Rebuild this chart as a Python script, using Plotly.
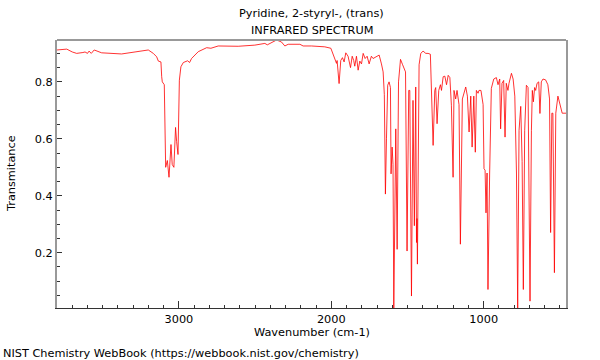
import plotly.graph_objects as go

wavenumber = [
    3800, 3736, 3700, 3671, 3630, 3616, 3600, 3590, 3575, 3556, 3507, 3440, 3376, 3288, 3201, 3168,
    3146, 3135, 3118, 3113, 3109, 3096, 3087, 3076, 3065, 3052, 3044, 3033, 3022, 3015, 3006, 2997,
    2987, 2971, 2943, 2930, 2917, 2873, 2818, 2790, 2742, 2611, 2502, 2436, 2420, 2359, 2327, 2305,
    2283, 2206, 2185, 2130, 2043, 2003, 1995, 1977, 1966, 1962, 1949, 1938, 1927, 1916, 1905, 1890,
    1874, 1863, 1853, 1846, 1835, 1824, 1813, 1802, 1791, 1778, 1765, 1752, 1737, 1726, 1708, 1686,
    1671, 1660, 1652, 1645, 1638, 1630, 1621, 1612, 1608, 1601, 1595, 1590, 1577, 1568, 1559, 1546,
    1532, 1522, 1513, 1503, 1492, 1485, 1474, 1464, 1455, 1446, 1441, 1438, 1435, 1424, 1413, 1398,
    1380, 1365, 1350, 1343, 1332, 1321, 1315, 1306, 1295, 1284, 1277, 1266, 1255, 1244, 1233, 1222,
    1212, 1201, 1195, 1184, 1175, 1162, 1153, 1140, 1129, 1118, 1107, 1096, 1085, 1076, 1065, 1055,
    1048, 1037, 1031, 1018, 1004, 998, 991, 985, 978, 972, 961, 950, 934, 917, 906, 895,
    889, 880, 869, 860, 852, 841, 834, 818, 807, 796, 785, 777, 768, 757, 748, 740,
    731, 720, 709, 703, 696, 687, 681, 674, 666, 659, 650, 639, 631, 622, 611, 594,
    579, 568, 561, 553, 546, 536, 527, 513, 498, 485, 460,
]
transmittance = [
    0.912, 0.915, 0.905, 0.900, 0.903, 0.905, 0.900, 0.908, 0.900, 0.912, 0.902, 0.899, 0.898, 0.905, 0.912, 0.900,
    0.888, 0.873, 0.870, 0.818, 0.800, 0.790, 0.500, 0.524, 0.465, 0.580, 0.510, 0.500, 0.640, 0.590, 0.545, 0.806,
    0.853, 0.868, 0.874, 0.868, 0.882, 0.906, 0.920, 0.918, 0.926, 0.925, 0.929, 0.935, 0.930, 0.947, 0.940, 0.926,
    0.932, 0.932, 0.926, 0.926, 0.923, 0.918, 0.906, 0.882, 0.865, 0.875, 0.794, 0.875, 0.885, 0.870, 0.902, 0.890,
    0.850, 0.890, 0.875, 0.855, 0.890, 0.841, 0.873, 0.863, 0.900, 0.882, 0.890, 0.863, 0.890, 0.882, 0.888, 0.894,
    0.863, 0.835, 0.755, 0.406, 0.600, 0.788, 0.800, 0.780, 0.477, 0.571, 0.510, 0.002, 0.635, 0.212, 0.800, 0.879,
    0.860, 0.845, 0.835, 0.206, 0.770, 0.770, 0.048, 0.735, 0.295, 0.782, 0.236, 0.320, 0.160, 0.860, 0.900, 0.908,
    0.900, 0.900, 0.897, 0.747, 0.577, 0.770, 0.780, 0.653, 0.770, 0.790, 0.770, 0.818, 0.820, 0.790, 0.823, 0.815,
    0.718, 0.465, 0.770, 0.740, 0.770, 0.720, 0.230, 0.740, 0.765, 0.782, 0.750, 0.624, 0.750, 0.571, 0.750, 0.553,
    0.770, 0.760, 0.770, 0.770, 0.720, 0.495, 0.490, 0.340, 0.480, 0.071, 0.480, 0.777, 0.810, 0.815, 0.790, 0.810,
    0.635, 0.795, 0.805, 0.606, 0.795, 0.770, 0.795, 0.830, 0.810, 0.750, 0.480, 0.006, 0.630, 0.714, 0.520, 0.071,
    0.630, 0.788, 0.780, 0.460, 0.030, 0.630, 0.770, 0.730, 0.780, 0.770, 0.795, 0.800, 0.689, 0.800, 0.810, 0.807,
    0.790, 0.740, 0.271, 0.690, 0.690, 0.130, 0.690, 0.750, 0.720, 0.690, 0.690,
]

x_ticks = [3000, 2000, 1000]
y_ticks = [0.2, 0.4, 0.6, 0.8]

title_main = "Pyridine, 2-styryl-, (trans)"
title_sub = "INFRARED SPECTRUM"
x_title = "Wavenumber (cm-1)"
y_title = "Transmitance"
footer = "NIST Chemistry WebBook (https://webbook.nist.gov/chemistry)"

FONT = "DejaVu Sans"
FS = 11.3

fig = go.Figure()
fig.add_trace(go.Scatter(
    x=wavenumber, y=transmittance, mode="lines",
    line=dict(color="rgba(255,0,0,0.8)", width=1),
    hoverinfo="skip", showlegend=False,
))

fig.update_layout(
    width=600, height=360,
    margin=dict(l=57, r=34, t=40, b=52),
    paper_bgcolor="white", plot_bgcolor="white",
    font=dict(family=FONT, size=FS, color="black"),
    showlegend=False,
)
fig.update_xaxes(
    range=[3800, 460], autorange=False,
    tickvals=x_ticks, ticktext=[str(v) for v in x_ticks],
    ticks="inside", ticklen=7, tickwidth=1, tickcolor="#333",
    minor=dict(dtick=100, tick0=0, ticks="inside", ticklen=3, tickcolor="#333", showgrid=False),
    showgrid=False, zeroline=False,
    showline=True, linecolor="#333", linewidth=1, mirror=False,
    tickfont=dict(family=FONT, size=FS),
)
fig.update_yaxes(
    range=[0.006, 0.947], autorange=False,
    tickvals=y_ticks, ticktext=[f"{v:.1f}" for v in y_ticks],
    ticks="inside", ticklen=5, tickwidth=1, tickcolor="#333",
    minor=dict(dtick=0.05, tick0=0, ticks="inside", ticklen=3, tickcolor="#333", showgrid=False),
    showgrid=False, zeroline=False,
    showline=True, linecolor="#999", linewidth=2, mirror=True,
    tickfont=dict(family=FONT, size=FS),
)
fig.add_shape(type="line", xref="paper", yref="paper", x0=0, x1=1, y0=1, y1=1,
              line=dict(color="#999", width=2))

fig.add_annotation(text=title_main, xref="paper", yref="paper", x=0.5, y=1,
                   xanchor="center", yanchor="middle", yshift=27, showarrow=False,
                   font=dict(family=FONT, size=FS))
fig.add_annotation(text=title_sub, xref="paper", yref="paper", x=0.5, y=1,
                   xanchor="center", yanchor="middle", yshift=10, showarrow=False,
                   font=dict(family=FONT, size=FS))
fig.add_annotation(text=x_title, xref="paper", yref="paper", x=0.5, y=0,
                   xanchor="center", yanchor="middle", yshift=-24, showarrow=False,
                   font=dict(family=FONT, size=FS))
fig.add_annotation(text=y_title, xref="paper", yref="paper", x=0, y=0.5,
                   xanchor="center", yanchor="middle", xshift=-46, textangle=-90,
                   showarrow=False, font=dict(family=FONT, size=FS))
fig.add_annotation(text=footer, xref="paper", yref="paper", x=0, y=0,
                   xanchor="left", yanchor="middle", xshift=-56, yshift=-45,
                   showarrow=False, font=dict(family=FONT, size=FS))

fig.write_html("out.html", config={"displayModeBar": False},
               post_script="document.body.style.margin='0';document.body.style.overflow='hidden';")
